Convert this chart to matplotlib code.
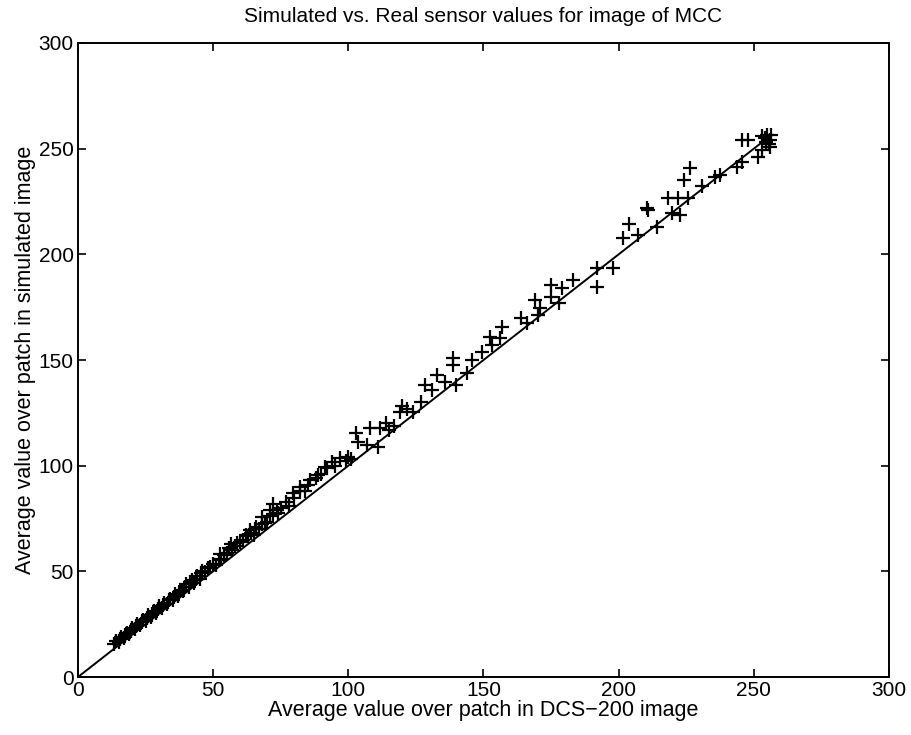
import matplotlib
matplotlib.use("Agg")
import matplotlib.pyplot as plt

plt.rcParams['font.family'] = ['Liberation Sans', 'DejaVu Sans']

# average patch values: real camera (x) vs simulated (y)
real_vals = [
    13.5, 14, 15, 15.5, 16, 17, 17.5, 18, 19, 19.5, 20, 21, 21.5, 22, 23, 23.5,
    24, 25, 25.5, 26, 27, 27.5, 28, 29, 29.5, 30, 31, 31.5, 32, 33, 33.5, 34,
    35, 35.5, 36, 37, 37.5, 38, 39, 39.5, 40, 41, 41.5, 42, 43, 43.5, 44, 45,
    45.5, 46, 47, 48, 49, 50, 51, 52, 52.5, 53, 54, 55, 56, 56.5, 57, 58, 59,
    60, 61, 62, 63, 63.5, 64, 65, 65.5, 66, 67, 68, 68, 69, 70, 71, 71, 72, 72,
    73.5, 74, 75, 77, 78, 79.4, 80, 82, 82, 84, 85, 86, 88, 88.8, 90, 91.4, 92,
    94, 95, 97, 99, 100, 101, 103, 103.6, 106.8, 108, 111, 111.7, 114, 115,
    117, 119, 120, 121.7, 124, 127, 128.4, 131, 132.8, 135.8, 138.8, 138.8,
    140, 144, 145.7, 149.4, 152.4, 153, 156, 157, 164, 166, 169, 170, 171, 175,
    175, 178, 179, 183, 192, 192, 198, 201.7, 204, 207, 210.4, 211, 214, 218.4,
    219.7, 222, 222.7, 224, 225.7, 226.4, 231, 235.7, 237.5, 243.8, 245.6,
    245.6, 248, 251.6, 253, 253, 254, 255, 256, 255.5, 256, 254.5, 256.5,
]
sim_vals = [
    15.5, 17, 16.5, 18, 19, 18.5, 20, 21, 20.5, 22, 23, 22.5, 24, 25, 24.5, 26,
    27, 26.5, 28, 29.5, 28.5, 30, 31, 30.5, 32, 33.5, 32.5, 34, 35, 34.5, 36.5,
    37, 36.5, 38, 39.5, 38.5, 40, 41, 40.5, 42.5, 44, 42.5, 45, 46, 44.5, 46.5,
    48, 46.5, 49, 50, 49.5, 51.5, 52, 53.5, 53, 55.5, 58, 56, 57.5, 58.5, 61,
    63, 60, 62, 63.5, 64, 65, 67, 66.5, 69.5, 68, 67, 70, 71, 70, 72.5, 75.5,
    73, 73.5, 76, 79, 77, 82, 79, 77.5, 80, 82.8, 81, 87, 84.5, 88, 90, 88, 91,
    93, 94, 95.6, 96, 99.4, 99, 101.7, 100, 103.6, 102, 104, 103, 115.5, 111,
    110, 118, 109, 118, 120, 117, 119, 125.4, 128, 127, 125.4, 130, 138, 136,
    143, 139.6, 151, 147.6, 138, 144, 150, 153.8, 161, 157, 160.4, 165.6, 170,
    167.5, 178.4, 171.3, 174.6, 185.5, 180, 177, 184, 188, 193.6, 184.6, 193.6,
    207.8, 214.4, 209, 222, 221, 213, 226.7, 219.6, 226.7, 218.8, 235, 226.7,
    241, 232.4, 236.6, 237.6, 241.4, 243.7, 254, 254, 246, 249.4, 256, 255,
    256.5, 254, 252, 251, 253, 256.5,
]
line_x = [0, 255]
line_y = [0, 255]

fig = plt.figure(figsize=(9.12, 7.35), dpi=100)
ax = fig.add_axes([0.0855, 0.0789, 0.8893, 0.8626])

ax.plot(line_x, line_y, color='black', linewidth=1.4)
ax.plot(real_vals, sim_vals, linestyle='none', marker='+', color='black',
        markersize=9.5, markeredgewidth=1.6)

ax.set_xlim(0, 300)
ax.set_ylim(0, 300)
ax.set_xticks([0, 50, 100, 150, 200, 250, 300])
ax.set_yticks([0, 50, 100, 150, 200, 250, 300])
ax.tick_params(direction='in', length=6, width=1.2, top=True, right=True,
               labelsize=15, pad=3)
for s in ax.spines.values():
    s.set_linewidth(1.4)

ax.set_title("Simulated vs. Real sensor values for image of MCC", fontsize=15, pad=15)
ax.set_xlabel("Average value over patch in DCS\u2212200 image", fontsize=15.5, labelpad=0)
ax.set_ylabel("Average value over patch in simulated image", fontsize=15.5, labelpad=2)

fig.savefig("out.png", dpi=100)
